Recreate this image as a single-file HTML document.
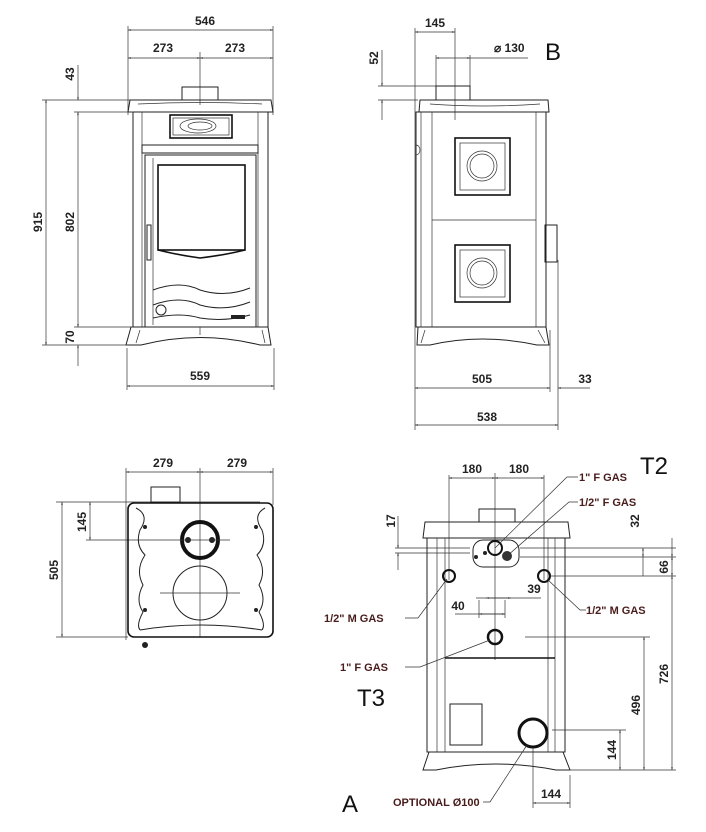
<!DOCTYPE html>
<html><head><meta charset="utf-8"><style>
html,body{margin:0;padding:0;background:#fff;}
svg{display:block}
.d{font-family:"Liberation Sans Narrow","Liberation Sans",sans-serif;font-weight:bold;font-size:12px;fill:#222;}
.r{font-family:"Liberation Sans Narrow","Liberation Sans",sans-serif;font-weight:bold;font-size:11px;fill:#4a1c1c;}
.big{font-family:"Liberation Sans",sans-serif;font-size:24px;fill:#111;}
.l{stroke:#222;stroke-width:1;fill:none}
.t{stroke:#333;stroke-width:0.7;fill:none}
.k{stroke:#111;stroke-width:1.6;fill:none}
</style></head><body>
<svg width="706" height="832" viewBox="0 0 706 832" xmlns="http://www.w3.org/2000/svg">
<defs><marker id="a" viewBox="0 0 10 10" refX="10" refY="5" markerWidth="6" markerHeight="4" orient="auto-start-reverse"><path d="M0,2 L10,5 L0,8z" fill="#333"/></marker></defs>

<!-- ===== FRONT VIEW ===== -->
<g>
<line class="t" x1="128" y1="30" x2="273" y2="30" marker-start="url(#a)" marker-end="url(#a)"/>
<text class="d" x="205" y="25" text-anchor="middle">546</text>
<line class="t" x1="128" y1="58" x2="200" y2="58" marker-start="url(#a)" marker-end="url(#a)"/>
<line class="t" x1="200" y1="58" x2="273" y2="58" marker-start="url(#a)" marker-end="url(#a)"/>
<text class="d" x="163" y="52" text-anchor="middle">273</text>
<text class="d" x="235" y="52" text-anchor="middle">273</text>
<line class="t" x1="128" y1="26" x2="128" y2="115"/>
<line class="t" x1="273" y1="26" x2="273" y2="115"/>
<line class="t" x1="200" y1="52" x2="200" y2="105"/>
<!-- flue -->
<rect class="l" x="182" y="87" width="36" height="13"/>
<!-- top plate -->
<path class="l" d="M130,100 L271,100 L273,112 L128,112 Z"/>
<path class="t" d="M138,104 Q200,101 262,104"/>
<!-- body -->
<rect class="l" x="133" y="112" width="135" height="215"/>
<line class="t" x1="142" y1="112" x2="142" y2="327"/>
<line class="t" x1="258" y1="112" x2="258" y2="327"/>
<rect class="l" x="142" y="145" width="116" height="8"/>
<rect class="k" x="170" y="115" width="62" height="23"/>
<rect class="t" x="173" y="118" width="56" height="17"/>
<ellipse class="t" cx="198" cy="126" rx="18" ry="7"/>
<ellipse class="t" cx="200" cy="126" rx="12" ry="4"/>
<rect class="l" x="145" y="155" width="111" height="172"/>
<line class="t" x1="153" y1="158" x2="153" y2="325"/>
<rect class="k" x="158" y="165" width="87" height="85"/>
<path class="k" d="M158,250 Q178,255 200,258 Q225,255 245,250"/>
<path class="l" d="M153,290 Q180,280 200,290 Q225,298 250,288"/>
<path class="l" d="M153,305 Q180,295 200,305 Q225,312 250,302"/>
<path class="l" d="M153,318 Q180,312 200,318 Q225,322 250,315"/>
<rect class="l" x="147" y="225" width="4" height="35"/>
<circle class="l" cx="161" cy="310" r="5"/>
<rect x="231" y="315" width="14" height="4" fill="#222"/>
<!-- base -->
<path class="l" d="M131,327 L268,327 L271,345 L260,345 Q200,330 141,345 L126,345 Z"/>
<path class="t" d="M140,330 L136,343 M262,330 L265,343"/>
<line class="t" x1="200" y1="327" x2="200" y2="335"/>
<!-- left dims -->
<line class="t" x1="42" y1="100" x2="130" y2="100"/>
<line class="t" x1="74" y1="112" x2="133" y2="112"/>
<line class="t" x1="42" y1="345" x2="128" y2="345"/>
<line class="t" x1="74" y1="327" x2="133" y2="327"/>
<line class="t" x1="46" y1="100" x2="46" y2="345" marker-start="url(#a)" marker-end="url(#a)"/>
<line class="t" x1="78" y1="112" x2="78" y2="327" marker-start="url(#a)" marker-end="url(#a)"/>
<line class="t" x1="78" y1="65" x2="78" y2="100" marker-end="url(#a)"/>
<line class="t" x1="78" y1="345" x2="78" y2="366" marker-start="url(#a)"/>
<text class="d" transform="translate(42,222) rotate(-90)" text-anchor="middle">915</text>
<text class="d" transform="translate(74,222) rotate(-90)" text-anchor="middle">802</text>
<text class="d" transform="translate(74,74) rotate(-90)" text-anchor="middle">43</text>
<text class="d" transform="translate(74,337) rotate(-90)" text-anchor="middle">70</text>
<!-- bottom dim -->
<line class="t" x1="127" y1="348" x2="127" y2="390"/>
<line class="t" x1="274" y1="348" x2="274" y2="390"/>
<line class="t" x1="127" y1="386" x2="274" y2="386" marker-start="url(#a)" marker-end="url(#a)"/>
<text class="d" x="200" y="380" text-anchor="middle">559</text>
</g>

<!-- ===== SIDE VIEW ===== -->
<g>
<line class="t" x1="415" y1="32" x2="455" y2="32" marker-start="url(#a)" marker-end="url(#a)"/>
<text class="d" x="435" y="27" text-anchor="middle">145</text>
<line class="t" x1="415" y1="28" x2="415" y2="430"/>
<line class="t" x1="455" y1="28" x2="455" y2="120"/>
<line class="t" x1="436" y1="55" x2="436" y2="88"/>
<line class="t" x1="470" y1="55" x2="470" y2="88"/>
<line class="t" x1="436" y1="58" x2="470" y2="58" marker-start="url(#a)" marker-end="url(#a)"/>
<line class="t" x1="470" y1="58" x2="528" y2="58"/>
<text class="d" x="494" y="52">⌀ 130</text>
<text class="big" x="545" y="60">B</text>
<line class="t" x1="378" y1="86" x2="436" y2="86"/>
<line class="t" x1="378" y1="100" x2="418" y2="100"/>
<line class="t" x1="382" y1="50" x2="382" y2="86" marker-end="url(#a)"/>
<line class="t" x1="382" y1="100" x2="382" y2="120" marker-start="url(#a)"/>
<text class="d" transform="translate(378,58) rotate(-90)" text-anchor="middle">52</text>
<rect class="l" x="436" y="86" width="34" height="14"/>
<path class="l" d="M420,100 L548,100 L549,112 L419,112 Z"/>
<path class="t" d="M430,104 Q484,108 540,104"/>
<rect class="l" x="416" y="112" width="130" height="215"/>
<line class="t" x1="421" y1="112" x2="421" y2="327"/>
<line class="t" x1="432" y1="112" x2="432" y2="327"/>
<line class="t" x1="536" y1="112" x2="536" y2="327"/>
<line class="t" x1="432" y1="220" x2="536" y2="220"/>
<path class="t" d="M416,145 A4,5 0 0 1 416,155"/>
<rect class="k" x="455" y="138" width="55" height="57"/>
<rect class="t" x="460" y="143" width="45" height="47"/>
<circle class="t" cx="482" cy="166" r="15"/><circle class="t" cx="482" cy="166" r="12"/>
<rect class="k" x="455" y="245" width="55" height="57"/>
<rect class="t" x="460" y="250" width="45" height="47"/>
<circle class="t" cx="482" cy="273" r="15"/><circle class="t" cx="482" cy="273" r="12"/>
<rect class="l" x="545" y="225" width="12" height="37"/>
<path class="l" d="M418,327 L546,327 L549,345 L537,345 Q482,333 430,345 L417,345 Z"/>
<path class="t" d="M425,330 L421,343 M538,330 L545,343"/>
<line class="t" x1="558" y1="260" x2="558" y2="430"/>
<line class="t" x1="550" y1="330" x2="550" y2="392"/>
<line class="t" x1="415" y1="388" x2="550" y2="388" marker-start="url(#a)" marker-end="url(#a)"/>
<line class="t" x1="558" y1="388" x2="590" y2="388" marker-start="url(#a)"/>
<text class="d" x="482" y="383" text-anchor="middle">505</text>
<text class="d" x="585" y="383" text-anchor="middle">33</text>
<line class="t" x1="415" y1="425" x2="558" y2="425" marker-start="url(#a)" marker-end="url(#a)"/>
<text class="d" x="487" y="421" text-anchor="middle">538</text>
</g>

<!-- ===== PLAN VIEW ===== -->
<g>
<line class="t" x1="126" y1="472" x2="200" y2="472" marker-start="url(#a)" marker-end="url(#a)"/>
<line class="t" x1="200" y1="472" x2="273" y2="472" marker-start="url(#a)" marker-end="url(#a)"/>
<text class="d" x="163" y="467" text-anchor="middle">279</text>
<text class="d" x="237" y="467" text-anchor="middle">279</text>
<line class="t" x1="126" y1="468" x2="126" y2="640"/>
<line class="t" x1="273" y1="468" x2="273" y2="505"/>
<line class="t" x1="200" y1="468" x2="200" y2="637"/>
<rect class="l" x="151" y="487" width="29" height="15"/>
<line class="t" x1="56" y1="502" x2="260" y2="502"/>
<line class="t" x1="86" y1="540" x2="170" y2="540"/>
<line class="t" x1="56" y1="637" x2="128" y2="637"/>
<line class="t" x1="62" y1="502" x2="62" y2="637" marker-start="url(#a)" marker-end="url(#a)"/>
<line class="t" x1="90" y1="502" x2="90" y2="540" marker-start="url(#a)" marker-end="url(#a)"/>
<text class="d" transform="translate(58,570) rotate(-90)" text-anchor="middle">505</text>
<text class="d" transform="translate(86,522) rotate(-90)" text-anchor="middle">145</text>
<rect class="k" x="128" y="503" width="145" height="134" rx="6"/>
<path class="l" d="M136,508 Q150,515 140,530 Q135,545 145,555 Q135,570 143,585 Q135,600 143,612 Q136,625 140,630"/>
<path class="l" d="M265,508 Q252,515 262,530 Q267,545 257,555 Q267,570 259,585 Q267,600 259,612 Q266,625 262,630"/>
<path class="l" d="M140,630 Q200,620 262,630"/>
<circle cx="200" cy="540" r="18" fill="none" stroke="#111" stroke-width="4"/>
<circle cx="188" cy="540" r="3" fill="#222"/><circle cx="212" cy="540" r="3" fill="#222"/>
<line class="t" x1="170" y1="540" x2="230" y2="540"/>
<circle class="l" cx="200" cy="593" r="27"/>
<line class="t" x1="160" y1="593" x2="240" y2="593"/>
<circle cx="145" cy="527" r="2" fill="#222"/><circle cx="256" cy="527" r="2" fill="#222"/>
<circle cx="145" cy="610" r="2" fill="#222"/><circle cx="256" cy="610" r="2" fill="#222"/>
<circle cx="145" cy="645" r="3" fill="#222"/>
</g>

<!-- ===== REAR VIEW ===== -->
<g>
<line class="t" x1="449" y1="478" x2="495" y2="478" marker-start="url(#a)" marker-end="url(#a)"/>
<line class="t" x1="495" y1="478" x2="544" y2="478" marker-start="url(#a)" marker-end="url(#a)"/>
<text class="d" x="472" y="473" text-anchor="middle">180</text>
<text class="d" x="519" y="473" text-anchor="middle">180</text>
<line class="t" x1="449" y1="475" x2="449" y2="580"/>
<line class="t" x1="544" y1="475" x2="544" y2="580"/>
<line class="t" x1="495" y1="473" x2="495" y2="660"/>
<text class="big" x="640" y="474">T2</text>
<rect class="l" x="479" y="509" width="36" height="13"/>
<path class="l" d="M425,522 L568,522 L570,538 L423,538 Z"/>
<rect class="l" x="427" y="538" width="138" height="214"/>
<line class="t" x1="437" y1="538" x2="437" y2="752"/>
<line class="t" x1="445" y1="538" x2="445" y2="752"/>
<line class="t" x1="548" y1="538" x2="548" y2="752"/>
<line class="t" x1="555" y1="538" x2="555" y2="752"/>
<rect class="l" x="473" y="540" width="46" height="27" rx="10"/>
<circle cx="495" cy="548" r="7" fill="none" stroke="#111" stroke-width="2"/>
<circle cx="507" cy="556" r="5" fill="#333"/>
<circle cx="485" cy="553" r="2" fill="#222"/><circle cx="476" cy="557" r="2" fill="#222"/>
<circle cx="449" cy="576" r="6" fill="none" stroke="#111" stroke-width="2"/>
<circle cx="544" cy="576" r="6" fill="none" stroke="#111" stroke-width="2"/>
<circle cx="495" cy="637" r="7" fill="none" stroke="#111" stroke-width="2.5"/>
<line class="k" x1="445" y1="658" x2="555" y2="658"/>
<rect class="l" x="450" y="704" width="32" height="41"/>
<circle cx="533" cy="733" r="14" fill="none" stroke="#111" stroke-width="3"/>
<path class="l" d="M429,752 L563,752 L570,770 L556,770 Q495,758 436,770 L423,770 Z"/>
<!-- leaders -->
<path class="t" d="M495,548 L567,477 L578,477"/>
<path class="t" d="M507,556 L569,502 L578,502"/>
<path class="t" d="M547,579 L580,610 L586,610"/>
<path class="t" d="M447,579 L418,618 L405,618"/>
<path class="t" d="M490,640 L420,667 L405,667"/>
<path class="t" d="M527,745 L490,802 L483,802"/>
<text class="r" x="579" y="481">1" F GAS</text>
<text class="r" x="579" y="506">1/2" F GAS</text>
<text class="r" x="586" y="614">1/2" M GAS</text>
<text class="r" x="324" y="622">1/2" M GAS</text>
<text class="r" x="340" y="671">1" F GAS</text>
<text class="r" x="393" y="806">OPTIONAL Ø100</text>
<text class="big" x="357" y="706">T3</text>
<text class="big" x="342" y="812">A</text>
<!-- dims -->
<line class="t" x1="395" y1="548" x2="470" y2="548"/>
<line class="t" x1="395" y1="553" x2="470" y2="553"/>
<line class="t" x1="398" y1="516" x2="398" y2="548" marker-end="url(#a)"/>
<line class="t" x1="398" y1="553" x2="398" y2="570" marker-start="url(#a)"/>
<text class="d" transform="translate(395,521) rotate(-90)" text-anchor="middle">17</text>
<line class="t" x1="520" y1="548" x2="676" y2="548"/>
<line class="t" x1="520" y1="557" x2="676" y2="557"/>
<line class="t" x1="550" y1="576" x2="676" y2="576"/>
<line class="t" x1="643" y1="548" x2="643" y2="557" marker-start="url(#a)" marker-end="url(#a)"/>
<line class="t" x1="643" y1="557" x2="643" y2="576"/>
<text class="d" transform="translate(639,521) rotate(-90)" text-anchor="middle">32</text>
<line class="t" x1="672" y1="538" x2="672" y2="557" marker-end="url(#a)"/>
<line class="t" x1="672" y1="557" x2="672" y2="576" marker-start="url(#a)" marker-end="url(#a)"/>
<text class="d" transform="translate(668,567) rotate(-90)" text-anchor="middle">66</text>
<line class="t" x1="672" y1="576" x2="672" y2="770" marker-start="url(#a)" marker-end="url(#a)"/>
<text class="d" transform="translate(668,674) rotate(-90)" text-anchor="middle">726</text>
<line class="t" x1="525" y1="637" x2="650" y2="637"/>
<line class="t" x1="644" y1="637" x2="644" y2="770" marker-start="url(#a)" marker-end="url(#a)"/>
<text class="d" transform="translate(640,705) rotate(-90)" text-anchor="middle">496</text>
<line class="t" x1="552" y1="730" x2="626" y2="730"/>
<line class="t" x1="620" y1="730" x2="620" y2="770" marker-start="url(#a)" marker-end="url(#a)"/>
<text class="d" transform="translate(616,750) rotate(-90)" text-anchor="middle">144</text>
<line class="t" x1="570" y1="770" x2="676" y2="770"/>
<line class="t" x1="533" y1="748" x2="533" y2="808"/>
<line class="t" x1="570" y1="775" x2="570" y2="808"/>
<line class="t" x1="533" y1="803" x2="570" y2="803" marker-start="url(#a)" marker-end="url(#a)"/>
<text class="d" x="551" y="798" text-anchor="middle">144</text>
<line class="t" x1="479" y1="600" x2="479" y2="618"/>
<line class="t" x1="505" y1="600" x2="505" y2="618"/>
<line class="t" x1="455" y1="614" x2="505" y2="614" marker-end="url(#a)"/>
<line class="t" x1="479" y1="614" x2="505" y2="614" marker-start="url(#a)"/>
<text class="d" x="458" y="610" text-anchor="middle">40</text>
<line class="t" x1="476" y1="598" x2="541" y2="598"/>
<line class="t" x1="486" y1="598" x2="511" y2="598" marker-start="url(#a)" marker-end="url(#a)"/>
<text class="d" x="534" y="593" text-anchor="middle">39</text>
</g>
</svg>
</body></html>
